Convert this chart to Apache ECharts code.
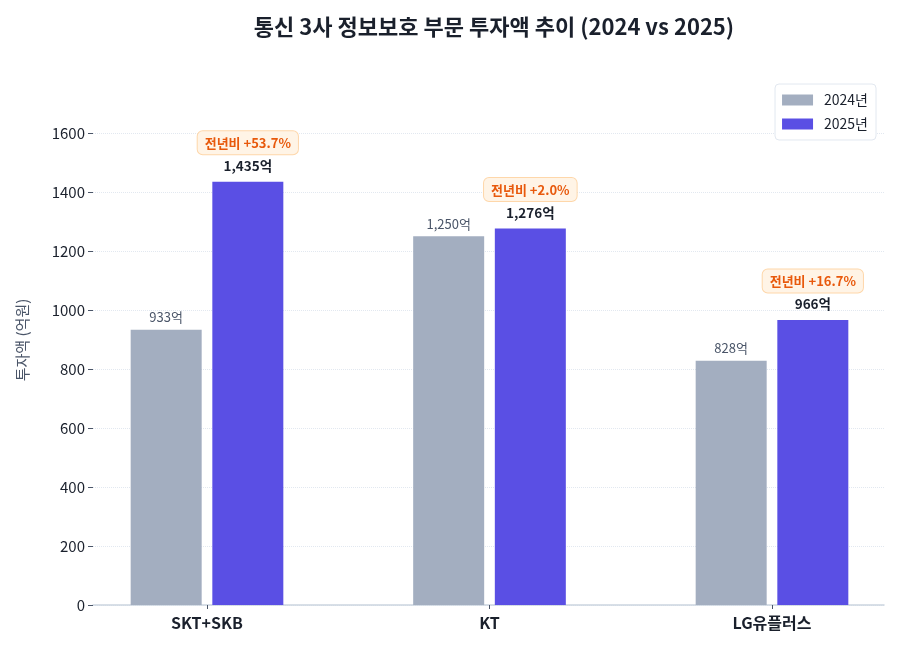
<!DOCTYPE html>
<html>
<head>
<meta charset="utf-8">
<script src="https://cdn.jsdelivr.net/npm/echarts@6/dist/echarts.min.js"></script>
<style>
    html, body { margin: 0; padding: 0; background: #fff; }
    #chart { width: 900px; height: 650px; }
</style>
</head>
<body>
<div id="chart"></div>
<script>
// 데이터
var categories = ['SKT+SKB', 'KT', 'LG유플러스'];
var invest2024 = [933, 1250, 828];
var invest2025 = [1435, 1276, 966];
var yoyPct = ['+53.7%', '+2.0%', '+16.7%'];

var FONT = '"Noto Sans CJK KR", "Noto Sans", sans-serif';

function fmt(v) {
    return v.toLocaleString('en-US') + '억';
}

var chart = echarts.init(document.getElementById('chart'));

var option = {
    backgroundColor: '#ffffff',
    textStyle: { fontFamily: FONT },
    title: {
        text: '통신 3사 정보보호 부문 투자액 추이 (2024 vs 2025)',
        left: 489,
        top: 11,
        textAlign: 'center',
        textStyle: { fontFamily: FONT, fontSize: 22, fontWeight: 'bold', color: '#1a202c' }
    },
    legend: {
        orient: 'vertical',
        right: 24,
        top: 84,
        data: ['2024년', '2025년'],
        backgroundColor: '#ffffff',
        borderColor: '#e2e8f0',
        borderWidth: 1,
        borderRadius: 4,
        padding: [9, 8, 9, 7],
        itemWidth: 31,
        itemHeight: 11,
        itemGap: 10,
        icon: 'rect',
        textStyle: { fontFamily: FONT, fontSize: 14, color: '#1a202c', padding: [0, 0, 0, 6] }
    },
    graphic: [{
        type: 'text',
        x: 22,
        y: 340,
        rotation: Math.PI / 2,
        style: {
            text: '투자액 (억원)',
            font: '15px ' + FONT,
            fill: '#4a5568',
            textAlign: 'center',
            textVerticalAlign: 'middle'
        }
    }],
    grid: [
        { left: 93, right: 16, top: 133, bottom: 45 },
        { left: 65.75, right: -13.25, top: 133, bottom: 45, outerBoundsMode: 'none' }
    ],
    xAxis: [{
        gridIndex: 0,
        type: 'value',
        min: -0.4,
        max: 2.4,
        axisLine: { show: true, onZero: false, lineStyle: { color: '#cbd5e0', width: 1.5 } },
        axisTick: { show: false },
        axisLabel: { show: false },
        splitLine: { show: false }
    }, {
        gridIndex: 1,
        type: 'category',
        data: categories,
        axisLine: { show: false, onZero: false },
        axisTick: { show: true, alignWithLabel: true, length: 4, lineStyle: { color: '#4a5568' } },
        axisLabel: { margin: 10, fontFamily: FONT, fontSize: 16, fontWeight: 'bold', color: '#1a202c' }
    }],
    yAxis: [{
        gridIndex: 0,
        type: 'value',
        min: 0,
        max: 1600,
        interval: 200,
        axisLine: { show: false, onZero: false },
        axisTick: { show: true, length: 5, lineStyle: { color: '#4a5568' } },
        axisLabel: {
            margin: 8, fontFamily: FONT, fontSize: 15, color: '#1a202c',
            formatter: function(v) { return String(v); }
        },
        splitLine: { show: true, lineStyle: { color: '#e2e8f0', type: 'dotted', width: 1 } }
    }, {
        gridIndex: 1,
        type: 'value',
        min: 0,
        max: 1600,
        show: false
    }],
    series: [{
        name: '2024년',
        type: 'bar',
        xAxisIndex: 1,
        yAxisIndex: 1,
        data: invest2024,
        barWidth: 71,
        barGap: '15%',
        itemStyle: { color: '#a3aec0' },
        label: {
            show: true,
            position: 'top',
            distance: 6,
            fontFamily: FONT,
            fontSize: 13,
            color: '#4a5568',
            formatter: function(p) { return fmt(p.value); }
        }
    }, {
        name: '2025년',
        type: 'bar',
        xAxisIndex: 1,
        yAxisIndex: 1,
        data: invest2025,
        barWidth: 71,
        itemStyle: { color: '#5a4fe4' },
        label: {
            show: true,
            position: 'top',
            distance: 2,
            formatter: function(p) {
                return '{pct|전년비 ' + yoyPct[p.dataIndex] + '}\n{val|' + fmt(p.value) + '}';
            },
            rich: {
                pct: {
                    fontFamily: FONT,
                    fontSize: 13,
                    fontWeight: 'bold',
                    color: '#e8590c',
                    backgroundColor: '#fff4e6',
                    borderColor: '#fed7aa',
                    borderWidth: 1,
                    borderRadius: 5,
                    padding: [5, 7],
                    lineHeight: 18
                },
                val: {
                    fontFamily: FONT,
                    fontSize: 13.5,
                    fontWeight: 'bold',
                    color: '#1a202c',
                    lineHeight: 28
                }
            }
        }
    }]
};

chart.setOption(option);
</script>
</body>
</html>
